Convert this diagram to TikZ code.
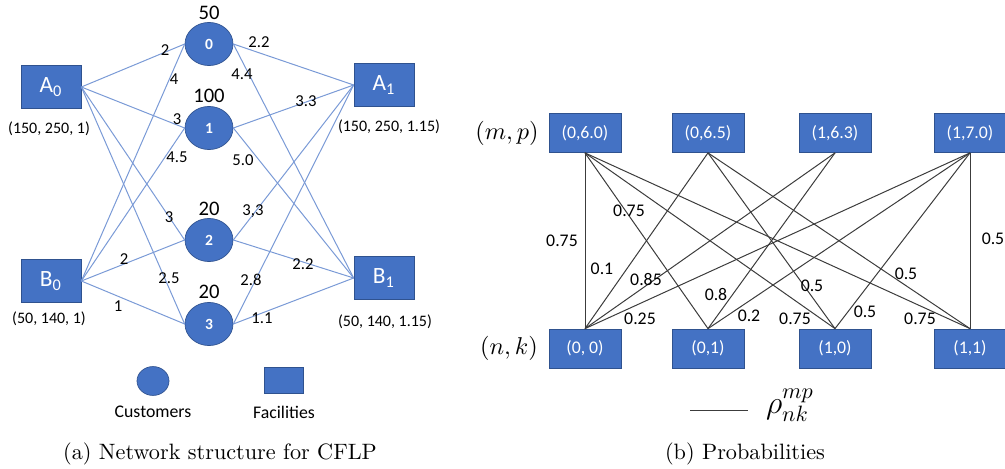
\documentclass[tikz,border=0pt]{standalone}
\usepackage{fontspec}
\newfontfamily\offsans{Carlito}
\usetikzlibrary{shapes.geometric}

\definecolor{boxblue}{HTML}{4472C4}
\definecolor{boxrim}{HTML}{2F528F}
\definecolor{arcblue}{HTML}{7A9AD6}
\definecolor{arcgray}{HTML}{3C3C3C}

\tikzset{
  facility/.style={rectangle, fill=boxblue, draw=boxrim, line width=0.3pt, inner sep=0pt,
    minimum width=27pt, minimum height=19.4pt, text=white, font=\offsans\fontsize{10.5}{12}\selectfont},
  customer/.style={ellipse, fill=boxblue, draw=boxrim, line width=0.3pt, inner sep=0pt,
    minimum width=21.6pt, minimum height=19.4pt, text=white, font=\offsans\bfseries\fontsize{7}{8}\selectfont},
  arc/.style={arcblue, line width=0.45pt},
  cost/.style={inner sep=0pt, font=\offsans\fontsize{7.5}{9}\selectfont},
  demand/.style={inner sep=0pt, font=\offsans\fontsize{9.3}{11}\selectfont},
  param/.style={inner sep=0pt, font=\offsans\fontsize{7.2}{9}\selectfont},
  legend/.style={inner sep=0pt, font=\offsans\fontsize{8}{10}\selectfont},
  state/.style={rectangle, fill=boxblue, draw=boxrim, line width=0.3pt, inner sep=0pt,
    minimum width=32.4pt, minimum height=17.6pt, text=white, font=\offsans\fontsize{8}{10}\selectfont},
  prob/.style={inner sep=0pt, font=\offsans\fontsize{8}{10}\selectfont},
  link/.style={arcgray, line width=0.45pt},
}

\begin{document}
\begin{tikzpicture}[x=0.45pt, y=-0.45pt]
    \useasboundingbox (0,0) rectangle (1005,469);

    % (a) facilities and customers
    \node[facility] (A0) at (51,87) {A\textsubscript{0}};
    \node[facility] (B0) at (51,281) {B\textsubscript{0}};
    \node[facility] (A1) at (384,85) {A\textsubscript{1}};
    \node[facility] (B1) at (384,278) {B\textsubscript{1}};
    \node[customer] (C0) at (209,44) {0};
    \node[customer] (C1) at (209,128) {1};
    \node[customer] (C2) at (209,240) {2};
    \node[customer] (C3) at (209,324) {3};

    % demands and facility data
    \node[demand] (dem0) at (209,13) {50};
    \node[demand] (dem1) at (209,96) {100};
    \node[demand] (dem2) at (209,209) {20};
    \node[demand] (dem3) at (209,292) {20};
    \node[param] (parA0) at (49,129) {(150, 250, 1)};
    \node[param] (parB0) at (49,319) {(50, 140, 1)};
    \node[param] (parA1) at (389,127) {(150, 250, 1.15)};
    \node[param] (parB1) at (385,322) {(50, 140, 1.15)};

    % arcs
    \draw[arc] (A0.east) -- (C0.west);
    \draw[arc] (A0.east) -- (C1.west);
    \draw[arc] (A0.east) -- (C2.west);
    \draw[arc] (A0.east) -- (C3.west);
    \draw[arc] (B0.east) -- (C0.west);
    \draw[arc] (B0.east) -- (C1.west);
    \draw[arc] (B0.east) -- (C2.west);
    \draw[arc] (B0.east) -- (C3.west);
    \draw[arc] (C0.east) -- (A1.west);
    \draw[arc] (C0.east) -- (B1.west);
    \draw[arc] (C1.east) -- (A1.west);
    \draw[arc] (C1.east) -- (B1.west);
    \draw[arc] (C2.east) -- (A1.west);
    \draw[arc] (C2.east) -- (B1.west);
    \draw[arc] (C3.east) -- (A1.west);
    \draw[arc] (C3.east) -- (B1.west);

    % costs
    \node[cost] (kA0C0) at (165,50) {2};
    \node[cost] (kB0C0) at (174,79) {4};
    \node[cost] (kA0C1) at (177,119) {3};
    \node[cost] (kB0C1) at (177,157) {4.5};
    \node[cost] (kA0C2) at (169,217) {3};
    \node[cost] (kB0C2) at (124,259) {2};
    \node[cost] (kA0C3) at (169,278) {2.5};
    \node[cost] (kB0C3) at (118,306) {1};
    \node[cost] (kC0A1) at (259,42) {2.2};
    \node[cost] (kC0B1) at (242,74) {4.4};
    \node[cost] (kC1A1) at (306,101) {3.3};
    \node[cost] (kC1B1) at (243,160) {5.0};
    \node[cost] (kC2A1) at (253,211) {3,3};
    \node[cost] (kC2B1) at (303,264) {2.2};
    \node[cost] (kC3A1) at (251,280) {2.8};
    \node[cost] (kC3B1) at (262,318) {1.1};

    % legend (a)
    \node[customer, minimum width=14.4pt, minimum height=13pt] (keyC) at (153,381) {};
    \node[facility, minimum width=17.6pt, minimum height=11.7pt] (keyF) at (284,380) {};
    \node[legend] (keyCtxt) at (153,412) {Customers};
    \node[legend] (keyFtxt) at (284,412) {Facilities};
    \node (capA) at (220,454) {(a) Network structure for CFLP};

    % (b) states
    \node (mp) at (507,133) {\fontsize{11}{13}\selectfont$(m,p)$};
    \node (nk) at (509,348) {\fontsize{11}{13}\selectfont$(n,k)$};
    \node[state] (mp1) at (585,133) {(0,6.0)};
    \node[state] (mp2) at (708,133) {(0,6.5)};
    \node[state] (mp3) at (835,133) {(1,6.3)};
    \node[state] (mp4) at (970,133) {(1,7.0)};
    \node[state] (nk1) at (585,348.5) {(0, 0)};
    \node[state] (nk2) at (708,348.5) {(0,1)};
    \node[state] (nk3) at (835,348.5) {(1,0)};
    \node[state] (nk4) at (970,348.5) {(1,1)};

    % transitions
    \draw[link] (mp1.south) -- (nk1.north);
    \draw[link] (mp1.south) -- (nk2.north);
    \draw[link] (mp1.south) -- (nk3.north);
    \draw[link] (mp1.south) -- (nk4.north);
    \draw[link] (mp2.south) -- (nk1.north);
    \draw[link] (mp2.south) -- (nk3.north);
    \draw[link] (mp2.south) -- (nk4.north);
    \draw[link] (mp3.south) -- (nk1.north);
    \draw[link] (mp3.south) -- (nk2.north);
    \draw[link] (mp4.south) -- (nk1.north);
    \draw[link] (mp4.south) -- (nk2.north);
    \draw[link] (mp4.south) -- (nk3.north);
    \draw[link] (mp4.south) -- (nk4.north);

    % probabilities
    \node[prob] (p1) at (562,241) {0.75};
    \node[prob] (p2) at (629,211) {0.75};
    \node[prob] (p3) at (602,269) {0.1};
    \node[prob] (p4) at (646,279) {0.85};
    \node[prob] (p5) at (640,319) {0.25};
    \node[prob] (p6) at (716,294) {0.8};
    \node[prob] (p7) at (749,316) {0.2};
    \node[prob] (p8) at (795,319) {0.75};
    \node[prob] (p9) at (812,286) {0.5};
    \node[prob] (p10) at (865,312) {0.5};
    \node[prob] (p11) at (906,274) {0.5};
    \node[prob] (p12) at (920,319) {0.75};
    \node[prob] (p13) at (993,239) {0.5};

    % legend (b)
    \coordinate (keyL) at (690,410);
    \coordinate (keyR) at (748,410);
    \draw[link] (keyL) -- (keyR);
    \node (rho) at (790,405) {\Large$\rho_{nk}^{mp}$};
    \node (capB) at (745,454) {(b) Probabilities};
\end{tikzpicture}
\end{document}
